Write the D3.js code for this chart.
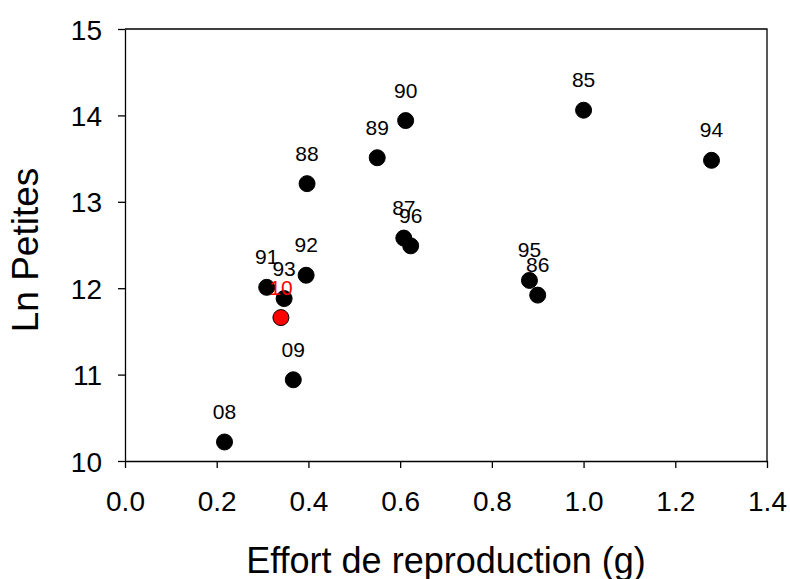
<!DOCTYPE html>
<html>
<head>
<meta charset="utf-8">
<script src="https://cdn.jsdelivr.net/npm/d3@7"></script>
<style>
  body { margin: 0; background: #fff; }
  svg text { font-family: "Liberation Sans", Arial, sans-serif; fill: #000; }
</style>
</head>
<body>
<svg width="790" height="579"></svg>
<script>
// years (labels), x = effort de reproduction, y = ln petites
const years   = ["85", "86", "87", "88", "89", "90", "91", "92", "93", "94", "95", "96", "08", "09", "10"];
const effort  = [1.00, 0.90, 0.608, 0.397, 0.550, 0.612, 0.309, 0.395, 0.347, 1.279, 0.882, 0.623, 0.217, 0.367, 0.340];
const lnPetit = [14.06, 11.92, 12.58, 13.21, 13.51, 13.94, 12.01, 12.15, 11.88, 13.48, 12.09, 12.49, 10.22, 10.94, 11.66];
const highlight = "10";

const xTicks = [0, 0.2, 0.4, 0.6, 0.8, 1.0, 1.2, 1.4];
const yTicks = [10, 11, 12, 13, 14, 15];

const svg = d3.select('svg');
const width = +svg.attr('width');
const height = +svg.attr('height');

var margin = {top: 29, right: 23, bottom: 118, left: 125};
var innerwidth = width - margin.left - margin.right;
var innerheight = height - margin.top - margin.bottom;

const data = years.map((y, i) => ({year: y, x: effort[i], y: lnPetit[i]}));

const g = svg.append('g')
    .attr('transform', "translate(" + margin.left + "," + margin.top + ")");

const xscale = d3.scaleLinear().domain([0, 1.4]).range([0, innerwidth]);
const yscale = d3.scaleLinear().domain([10, 15]).range([innerheight, 0]);

// frame (top + right)
g.append('path')
    .attr('d', "M0,0H" + innerwidth + "V" + innerheight)
    .attr('fill', 'none')
    .attr('stroke', '#000')
    .attr('stroke-width', 1.3);

const xaxisG = g.append('g')
    .attr('transform', "translate(0," + innerheight + ")")
    .call(d3.axisBottom(xscale).tickValues(xTicks).tickFormat(d3.format('.1f'))
        .tickSize(7).tickSizeOuter(0).tickPadding(23));

const yaxisG = g.append('g')
    .call(d3.axisLeft(yscale).tickValues(yTicks).tickFormat(d3.format('d'))
        .tickSize(7).tickSizeOuter(0).tickPadding(16));

[xaxisG, yaxisG].forEach(a => {
    a.selectAll('.domain, .tick line').attr('stroke', '#000').attr('stroke-width', 1.3);
    a.selectAll('.tick text').attr('font-size', 28).attr('font-family', '"Liberation Sans", Arial, sans-serif').attr('fill', '#000');
});
yaxisG.selectAll('.tick text').attr('dy', '0.36em');

// points
g.selectAll('circle')
    .data(data)
    .enter()
    .append('circle')
    .attr('cx', d => xscale(d.x))
    .attr('cy', d => yscale(d.y))
    .attr('r', 8)
    .attr('fill', d => d.year === highlight ? '#ff0000' : '#000')
    .attr('stroke', '#000')
    .attr('stroke-width', 1);

// year labels
g.selectAll('text.lbl')
    .data(data)
    .enter()
    .append('text')
    .attr('class', 'lbl')
    .attr('x', d => xscale(d.x))
    .attr('y', d => yscale(d.y) - 23)
    .attr('text-anchor', 'middle')
    .attr('font-size', 21)
    .style('fill', d => d.year === highlight ? '#ff0000' : '#000')
    .text(d => d.year);

// axis titles
svg.append('text')
    .attr('x', margin.left + innerwidth / 2)
    .attr('y', 573)
    .attr('text-anchor', 'middle')
    .attr('font-size', 36)
    .text('Effort de reproduction (g)');

svg.append('text')
    .attr('transform', "translate(38," + (margin.top + innerheight / 2 + 5) + ") rotate(-90)")
    .attr('text-anchor', 'middle')
    .attr('font-size', 37)
    .text('Ln Petites');
</script>
</body>
</html>
